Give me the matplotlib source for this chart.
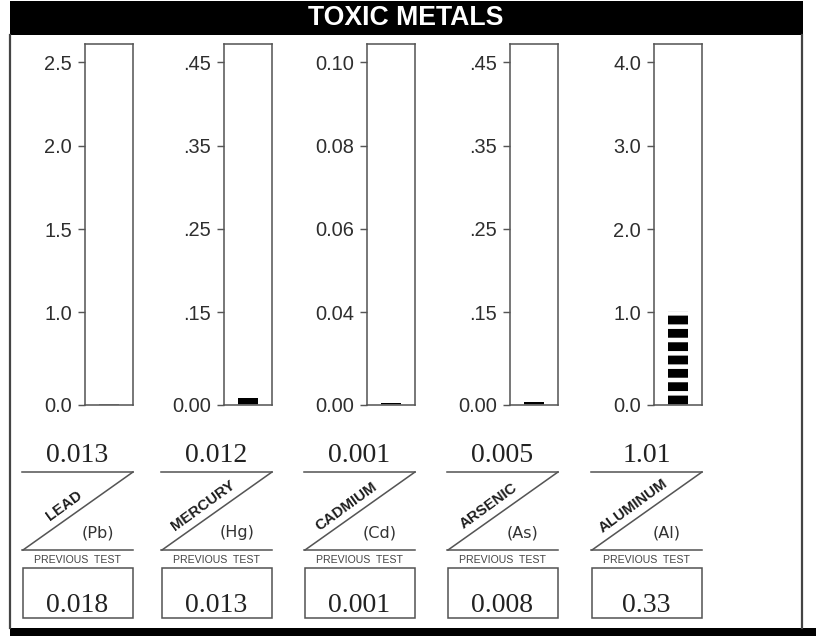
import numpy as np
import matplotlib
matplotlib.use("Agg")
import matplotlib.pyplot as plt
from matplotlib.lines import Line2D
from matplotlib.patches import Rectangle

# data
metals = ["LEAD", "MERCURY", "CADMIUM", "ARSENIC", "ALUMINUM"]
symbols = ["(Pb)", "(Hg)", "(Cd)", "(As)", "(Al)"]
results = [0.013, 0.012, 0.001, 0.005, 1.01]
result_labels = ["0.013", "0.012", "0.001", "0.005", "1.01"]
previous_labels = ["0.018", "0.013", "0.001", "0.008", "0.33"]
tick_values = [
    [0.0, 1.0, 1.5, 2.0, 2.5],
    [0.0, 0.15, 0.25, 0.35, 0.45],
    [0.0, 0.04, 0.06, 0.08, 0.10],
    [0.0, 0.15, 0.25, 0.35, 0.45],
    [0.0, 1.0, 2.0, 3.0, 4.0],
]
tick_labels = [
    ["0.0", "1.0", "1.5", "2.0", "2.5"],
    ["0.00", ".15", ".25", ".35", ".45"],
    ["0.00", "0.04", "0.06", "0.08", "0.10"],
    ["0.00", ".15", ".25", ".35", ".45"],
    ["0.0", "1.0", "2.0", "3.0", "4.0"],
]

W, H, DPI = 816, 636, 80
plt.rcParams["hatch.linewidth"] = 4.1
plt.rcParams["hatch.color"] = "white"

fig = plt.figure(figsize=(W / DPI, H / DPI), dpi=DPI)
fig.patch.set_facecolor("white")


def fx(x):
    return x / W


def fy(y):
    return 1 - y / H


LINE = "#555555"
box_right = [133, 272, 415, 558, 702]
BOX_W, BLOCK_W = 48, 111
TOP, BOT = 44, 405
# pixel heights of the tick rows above the baseline (report uses a broken scale)
tick_px = [0, 93, 176, 259.5, 343]
top_px = BOT - TOP


def make_scale(vals):
    step = vals[-1] - vals[-2]
    xv = np.array([-vals[1]] + list(vals) + [vals[-1] + 10 * step])
    xp = np.array([-tick_px[1]] + tick_px + [tick_px[-1] + 10 * (tick_px[-1] - tick_px[-2])])
    top_val = vals[-1] + step * (top_px - tick_px[-1]) / (tick_px[-1] - tick_px[-2])
    return (lambda v: np.interp(v, xv, xp), lambda p: np.interp(p, xp, xv)), top_val


def fig_line(xs, ys, **kw):
    fig.add_artist(Line2D([fx(x) for x in xs], [fy(y) for y in ys],
                          transform=fig.transFigure, **kw))


for i, metal in enumerate(metals):
    R = box_right[i]
    L = R - BOX_W
    ax = fig.add_axes([fx(L), fy(BOT), BOX_W / W, (BOT - TOP) / H])
    funcs, top_val = make_scale(tick_values[i])
    ax.set_yscale("function", functions=funcs)
    ax.bar(0, results[i], width=0.4, color="black", hatch="-",
           edgecolor="white", linewidth=0)
    ax.set_xlim(-0.5, 0.5)
    ax.set_ylim(0, top_val)
    ax.set_xticks([])
    ax.set_yticks(tick_values[i], tick_labels[i])
    ax.minorticks_off()
    ax.tick_params(axis="y", length=6.3, width=1.3, color=LINE, pad=5.5,
                   labelsize=18, labelcolor="#2e2e2e")
    for lab in ax.get_yticklabels():
        lab.set_fontfamily("Liberation Sans")
    for sp in ax.spines.values():
        sp.set_color(LINE)
        sp.set_linewidth(1.4)

    # label block under the bar
    bl = R - BLOCK_W
    cx = (bl + R) / 2
    fig.text(fx(cx), fy(462), result_labels[i], ha="center", va="baseline",
             fontsize=25, family="Liberation Serif", color="#222222")
    fig_line([bl, R], [472, 472], color=LINE, lw=1.4)
    fig_line([bl, R], [550, 550], color=LINE, lw=1.4)
    fig_line([bl + 1, R], [550, 472], color=LINE, lw=1.4)
    fig.text(fx(bl + 42), fy(506), metal, ha="center", va="center",
             rotation=36, rotation_mode="anchor", fontsize=13.5,
             fontweight="bold", family="Liberation Sans", color="#1e1e1e")
    fig.text(fx(R - 35), fy(533), symbols[i], ha="center", va="center",
             fontsize=14.5, family="DejaVu Sans", color="#333333")
    fig.text(fx(cx), fy(560), "PREVIOUS  TEST", ha="center", va="center",
             fontsize=9.5, family="Liberation Sans", color="#444444")
    fig.add_artist(Rectangle((fx(bl + 1), fy(618)), (R - bl - 1) / W, 50 / H,
                             transform=fig.transFigure, fill=False,
                             edgecolor=LINE, lw=1.4))
    fig.text(fx(cx), fy(612), previous_labels[i], ha="center", va="baseline",
             fontsize=25, family="Liberation Serif", color="#222222")

# frame, header and bottom band
fig.add_artist(Rectangle((fx(10), fy(35)), (803 - 10) / W, 34 / H,
                         transform=fig.transFigure, color="black", lw=0))
fig.text(fx(406), fy(18), "TOXIC METALS", ha="center", va="center",
         fontsize=24, fontweight="bold", family="Liberation Sans", color="white")
fig_line([10, 10], [35, 628], color="#444444", lw=2)
fig_line([802, 802], [35, 628], color="#444444", lw=2)
fig.add_artist(Rectangle((fx(10), 0), 1 - fx(10), 8 / H,
                         transform=fig.transFigure, color="black", lw=0))

fig.savefig("out.png", dpi=DPI)
